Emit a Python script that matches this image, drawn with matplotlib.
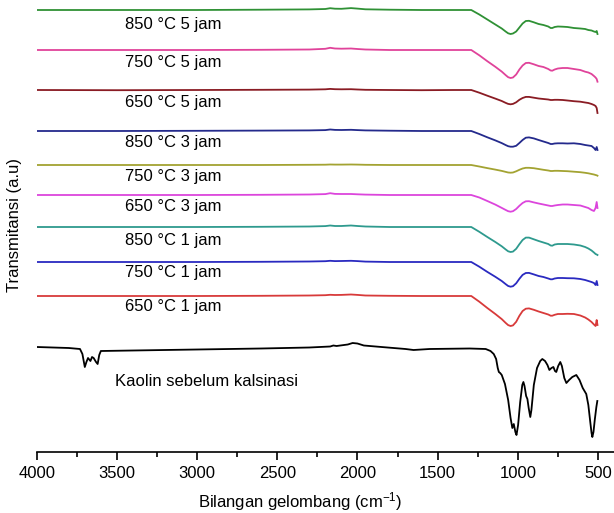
import matplotlib
matplotlib.use("Agg")
import matplotlib.pyplot as plt
from matplotlib.ticker import MultipleLocator

plt.rcParams['font.family'] = ['Liberation Sans', 'DejaVu Sans']
plt.rcParams['mathtext.default'] = 'regular'

# wavenumber knots (cm-1) for the calcined samples
wn_cal = [4000, 3500, 3000, 2600, 2300, 2200, 2170, 2140, 2100, 2040, 2000, 1950, 1800, 1600, 1400,
          1290, 1240, 1190, 1140, 1100, 1075, 1060, 1045, 1030, 1010, 990, 970, 950, 930, 900, 870,
          840, 810, 795, 785, 770, 750, 720, 690, 650, 610, 580, 560, 540, 525, 515, 508, 503]

# absorption depth below each curve's plateau (a.u.)
d_850_5 = [0, 0, 0, -0.3, -0.6, -1.0, -1.8, -1.3, -1.2, -1.9, -1.4, -0.7, -0.3, 0, 0,
           0, 4.5, 9.5, 14.5, 18.5, 21.6, 23.3, 24, 23.5, 21.5, 17.5, 13.5, 11, 10.8, 12.3, 14,
           15, 16.5, 18, 18, 17, 16.5, 16.7, 17, 18, 18.5, 19, 20, 20.5, 21.5, 22, 21, 24]
d_750_5 = [0, 0, 0, -0.2, -0.5, -1.2, -2.2, -1.5, -1.3, -1.5, -1.0, -0.5, 0, 0, 0,
           0, 5.3, 11.2, 16.8, 21.6, 25.2, 27.2, 28, 27.5, 24.5, 19.5, 15.5, 13, 12.8, 14.3, 16,
           17, 19, 20.5, 20.7, 19.5, 18.5, 18, 18, 19, 20, 21.7, 22.5, 24, 26, 27.5, 29, 31.7]
d_650_5 = [0, 0.2, 0, -0.2, -0.4, -0.7, -1.1, -0.8, -0.7, -0.8, -0.5, -0.2, 0, 0.2, 0,
           0, 2.7, 5.7, 8.6, 11, 12.9, 13.9, 14.3, 13.9, 12.3, 9.8, 8, 6.9, 6.9, 7.7, 8.5,
           9, 9.5, 10, 10, 9.8, 9.8, 10, 10.5, 11.2, 11.7, 12.5, 13, 14, 15, 16, 18, 23]
d_850_3 = [0, 0, -0.2, -0.4, -0.6, -0.9, -1.5, -1.1, -1, -1.2, -0.9, -0.6, -0.3, 0, 0,
           0, 3, 6.3, 9.4, 12.1, 14.1, 15.2, 15.7, 15.7, 14.8, 12, 9, 6.7, 6.4, 7.4, 9,
           10.5, 12, 13, 13, 12.5, 12.3, 12.3, 12.5, 12.3, 13, 14, 14.5, 15, 17, 19, 16, 19]
d_750_3 = [0, 0, 0, 0, -0.2, -0.3, -0.5, -0.4, -0.4, -0.5, -0.4, -0.2, 0, 0, 0,
           0, 1.5, 3.1, 4.6, 5.9, 6.9, 7.5, 7.7, 7.5, 6.3, 4.8, 3.5, 2.8, 2.8, 3.2, 4,
           4.8, 5.5, 6, 6, 5.8, 5.8, 6, 6.2, 6.7, 7.2, 7.8, 8.3, 9, 9.5, 10, 10.3, 10.7]
d_650_3 = [0, 0, 0, -0.2, -0.5, -0.9, -1.8, -1.1, -1, -1.0, -0.7, -0.4, 0, 0, 0,
           0, 2.5, 6, 9.6, 12.9, 15, 16.2, 16.7, 16.2, 14, 10.8, 8, 6.3, 6.2, 7.4, 8.5,
           9.5, 10.5, 11, 11, 10.5, 10, 9.5, 9.5, 10, 10.5, 12, 13, 15, 16, 13, 7, 13]
d_850_1 = [0, 0, 0, -0.2, -0.5, -0.9, -1.5, -1, -1, -1.5, -1, -0.5, 0, 0, 0,
           0, 4.8, 10, 15, 19.3, 22.5, 24.3, 25, 24.6, 21.8, 17.2, 13, 10.6, 10.6, 12.3, 14,
           15.5, 17, 18.5, 18.7, 17.5, 17, 17, 17, 17.5, 18.5, 20, 21.5, 23.5, 25.5, 27, 27.5, 28]
d_750_1 = [0, 0, 0, -0.2, -0.5, -0.8, -1.2, -0.9, -1, -1.2, -0.9, -0.4, 0, 0, 0,
           0, 4.7, 9.9, 14.8, 19, 22.2, 24, 24.7, 24.2, 21.3, 16.8, 12.9, 11, 10.9, 12.4, 14,
           15, 16.5, 17.3, 17.3, 16.5, 16, 16, 16.2, 16.3, 17, 18, 19, 20, 21, 23, 19, 23]
d_650_1 = [0, 0, 0, -0.2, -0.5, -0.8, -1.2, -1, -1.1, -1.5, -1.1, -0.5, -0.2, 0, 0,
           0, 5.7, 12, 18, 23.1, 27, 29.1, 30, 29.4, 25.8, 19.8, 15, 12.7, 12.4, 13.8, 15.5,
           17, 18.5, 19.7, 19.7, 18.8, 18, 18, 17.8, 18, 19.5, 21.5, 23.5, 26, 28.5, 30, 24, 29]

labels = ['850 °C 5 jam', '750 °C 5 jam', '650 °C 5 jam',
          '850 °C 3 jam', '750 °C 3 jam', '650 °C 3 jam',
          '850 °C 1 jam', '750 °C 1 jam', '650 °C 1 jam']
depths = [d_850_5, d_750_5, d_650_5, d_850_3, d_750_3, d_650_3, d_850_1, d_750_1, d_650_1]
offsets = [442, 402, 362, 321, 287, 257, 225, 190, 156]
label_y = [428, 389, 349, 310, 275, 246, 212, 179, 145]
colors = ['#2f9135', '#e0439a', '#8a1c24', '#242a8c', '#a3a332',
          '#dc45dc', '#2e9a8e', '#2a2ac0', '#d83a3a']

# raw kaolin
wn_kaolin = [4000, 3900, 3800, 3730, 3715, 3700, 3690, 3680, 3665, 3655, 3645, 3630, 3620, 3610, 3600,
             3400, 3000, 2600, 2300, 2170, 2150, 2130, 2060, 2030, 2000, 1960, 1850, 1700, 1650, 1550,
             1300, 1200, 1170, 1150, 1135, 1125, 1118, 1110, 1100, 1080, 1060, 1045, 1034, 1025, 1015,
             1008, 998, 985, 972, 965, 958, 948, 940, 932, 922, 915, 900, 880, 860, 847, 830, 815,
             803, 790, 778, 768, 760, 748, 735, 725, 710, 697, 680, 660, 635, 615, 595, 573, 560,
             548, 540, 535, 528, 520, 510, 504]
t_kaolin = [1, 0.5, 0, -1, -6, -19, -14, -10, -13, -9, -10, -14, -16, -7, -3,
            -2.5, -1.5, -0.5, 0.5, 1.5, 2.5, 2, 3.5, 5, 4.5, 2.5, 1, -1, -2, -1,
            -0.5, -1, -3, -6, -11, -20, -24, -25, -27, -36, -52, -70, -80, -76, -84,
            -87, -77, -54, -37, -34, -38, -48, -51, -60, -69, -62, -37, -20, -13, -11, -13, -17,
            -22, -20, -19, -23, -24, -18, -14, -18, -30, -35, -32, -29, -27, -32, -40, -46, -57,
            -74, -85, -89, -84, -72, -59, -53]
kaolin_offset = 104

fig = plt.figure(figsize=(6.14, 5.13), dpi=100)
ax = fig.add_axes([36.7 / 614, 1 - 452 / 513, 1 - 36.7 / 614, 452 / 513])

for d, off, c, lab, ly in zip(depths, offsets, colors, labels, label_y):
    ax.plot(wn_cal, [off - v for v in d], color=c, lw=1.3)
    ax.text(3450, ly, lab, fontsize=12, ha='left', va='center')

ax.plot(wn_kaolin, [kaolin_offset + v for v in t_kaolin], color='black', lw=1.3)
ax.text(3512, 70, 'Kaolin sebelum kalsinasi', fontsize=12, ha='left', va='center')

ax.set_xlim(4000, 400)
ax.set_ylim(0, 452)
ax.xaxis.set_major_locator(MultipleLocator(500))
ax.xaxis.set_minor_locator(MultipleLocator(250))
ax.set_xticks([4000, 3500, 3000, 2500, 2000, 1500, 1000, 500])
ax.set_yticks([])
for s in ['left', 'top', 'right']:
    ax.spines[s].set_visible(False)
ax.spines['bottom'].set_linewidth(1.2)
ax.tick_params(axis='x', which='major', length=6, width=1.2, labelsize=12, pad=4)
ax.tick_params(axis='x', which='minor', length=3.5, width=1.2)

fig.text(300 / 614, 1 - 502 / 513, 'Bilangan gelombang (cm$^{-1}$)', fontsize=12,
         ha='center', va='center')
fig.text(15 / 614, 1 - 225 / 513, 'Transmitansi (a.u)', fontsize=12, rotation=90,
         ha='center', va='center')

fig.savefig('out.png', dpi=100)
